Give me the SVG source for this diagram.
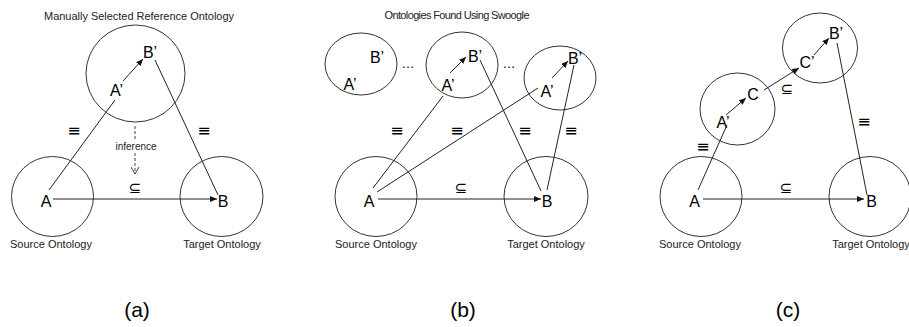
<svg xmlns="http://www.w3.org/2000/svg" width="909" height="327" viewBox="0 0 909 327">
<style>
  .c { fill: none; stroke: #333; stroke-width: 1; }
  .l { fill: none; stroke: #222; stroke-width: 1; }
  .a { fill: none; stroke: #222; stroke-width: 1; marker-end: url(#arr); }
  .d { fill: none; stroke: #444; stroke-width: 1; stroke-dasharray: 3 2; }
  .n { font-family: "Liberation Sans", Arial, sans-serif; font-size: 16px; fill: #000; text-anchor: middle; }
  .t { font-family: "Liberation Sans", Arial, sans-serif; font-size: 11px; fill: #222; text-anchor: middle; }
  .s { font-family: "DejaVu Sans", sans-serif; font-size: 16px; fill: #000; text-anchor: middle; }
  .u { font-family: "DejaVu Sans", sans-serif; font-size: 15px; fill: #000; text-anchor: middle; }
  .p { font-family: "Liberation Sans", Arial, sans-serif; font-size: 21px; fill: #000; text-anchor: middle; }
</style>
<defs>
  <marker id="arr" markerWidth="7" markerHeight="6" refX="7" refY="3" orient="auto" markerUnits="userSpaceOnUse">
    <path d="M0,0 L7,3 L0,6 Z" fill="#111"/>
  </marker>
  <marker id="open" markerWidth="9" markerHeight="9" refX="4.5" refY="8" orient="0" markerUnits="userSpaceOnUse">
    <path d="M0.5,1 L4.5,8 L8.5,1" fill="none" stroke="#444" stroke-width="1"/>
  </marker>
</defs>

<!-- Panel (a) -->
<text class="t" x="139" y="20" textLength="190">Manually Selected Reference Ontology</text>
<g id="a-ref">
  <ellipse class="c" cx="135.5" cy="73.5" rx="49.5" ry="48.5"/>
  <text class="n" x="150" y="58">B’</text>
  <text class="n" x="116.5" y="96">A’</text>
</g>
<g id="a-src">
  <ellipse class="c" cx="52.5" cy="196.5" rx="41" ry="40"/>
  <text class="n" x="46" y="207">A</text>
</g>
<g id="a-tgt">
  <ellipse class="c" cx="221.5" cy="196.5" rx="41.5" ry="40"/>
  <text class="n" x="223" y="207">B</text>
</g>
<text class="t" x="51" y="248">Source Ontology</text>
<text class="t" x="222" y="248">Target Ontology</text>
<g id="a-connectors">
  <line class="a" x1="123" y1="81" x2="143" y2="59"/>
  <line class="l" x1="115" y1="100" x2="49" y2="190"/>
  <line class="l" x1="155" y1="60" x2="218" y2="195"/>
  <line class="a" x1="53" y1="199" x2="217" y2="199"/>
  <line class="d" x1="135" y1="126" x2="135" y2="141"/>
  <line class="d" x1="135" y1="153" x2="135" y2="174" marker-end="url(#open)"/>
  <text class="t" x="136" y="150" style="font-size:10px">inference</text>
  <text class="s" x="74" y="136">≡</text>
  <text class="s" x="204" y="136">≡</text>
  <text class="u" x="135" y="193">⊆</text>
</g>

<!-- Panel (b) -->
<text class="t" x="457" y="19" textLength="145">Ontologies Found Using Swoogle</text>
<g id="b-ont1">
  <ellipse class="c" cx="361" cy="64" rx="36" ry="31"/>
  <text class="n" x="377" y="63">B’</text>
  <text class="n" x="350" y="90">A’</text>
</g>
<g id="b-ont2">
  <ellipse class="c" cx="462" cy="65" rx="36" ry="33"/>
  <text class="n" x="475" y="62">B’</text>
  <text class="n" x="448" y="91">A’</text>
</g>
<g id="b-ont3">
  <ellipse class="c" cx="560" cy="78" rx="36" ry="32"/>
  <text class="n" x="575" y="64">B’</text>
  <text class="n" x="547" y="97">A’</text>
</g>
<text class="n" x="408" y="68" style="font-size:13px">…</text>
<text class="n" x="509" y="68" style="font-size:13px">…</text>
<g id="b-src">
  <ellipse class="c" cx="376" cy="196.5" rx="41" ry="40"/>
  <text class="n" x="369" y="207">A</text>
</g>
<g id="b-tgt">
  <ellipse class="c" cx="546" cy="196.5" rx="42" ry="40"/>
  <text class="n" x="547" y="207">B</text>
</g>
<text class="t" x="376" y="248">Source Ontology</text>
<text class="t" x="546" y="248">Target Ontology</text>
<g id="b-connectors">
  <line class="a" x1="450" y1="73" x2="466" y2="57"/>
  <line class="a" x1="552" y1="78" x2="568" y2="61"/>
  <line class="l" x1="373" y1="188" x2="443" y2="96"/>
  <line class="l" x1="377" y1="192" x2="538" y2="88"/>
  <line class="l" x1="480" y1="60" x2="541" y2="191"/>
  <line class="l" x1="574" y1="65" x2="547" y2="190"/>
  <line class="a" x1="378" y1="199" x2="541" y2="199"/>
  <text class="s" x="397" y="136">≡</text>
  <text class="s" x="457" y="136">≡</text>
  <text class="s" x="525" y="136">≡</text>
  <text class="s" x="571" y="136">≡</text>
  <text class="u" x="461" y="193">⊆</text>
</g>

<!-- Panel (c) -->
<g id="c-bp">
  <ellipse class="c" cx="820" cy="48" rx="37.5" ry="35"/>
  <text class="n" x="836" y="39">B’</text>
  <text class="n" x="807" y="68">C’</text>
</g>
<g id="c-ac">
  <ellipse class="c" cx="737.5" cy="109" rx="37.5" ry="36"/>
  <text class="n" x="753" y="100">C</text>
  <text class="n" x="723" y="128">A’</text>
</g>
<g id="c-src">
  <ellipse class="c" cx="701" cy="196.5" rx="41" ry="40"/>
  <text class="n" x="694.5" y="207">A</text>
</g>
<g id="c-tgt">
  <ellipse class="c" cx="870" cy="196.5" rx="41" ry="40"/>
  <text class="n" x="871.5" y="207">B</text>
</g>
<text class="t" x="700" y="248">Source Ontology</text>
<text class="t" x="871" y="248">Target Ontology</text>
<g id="c-connectors">
  <line class="a" x1="726" y1="115" x2="746" y2="98"/>
  <line class="a" x1="764" y1="90" x2="799" y2="68"/>
  <line class="a" x1="814" y1="55" x2="829" y2="38"/>
  <line class="l" x1="837" y1="43" x2="867" y2="195"/>
  <line class="l" x1="698" y1="190" x2="727" y2="125"/>
  <line class="a" x1="703" y1="199" x2="864" y2="199"/>
  <text class="u" x="787" y="94">⊆</text>
  <text class="s" x="864" y="127">≡</text>
  <text class="s" x="703" y="152">≡</text>
  <text class="u" x="786" y="193">⊆</text>
</g>

<text class="p" x="137" y="317">(a)</text>
<text class="p" x="463" y="317">(b)</text>
<text class="p" x="788" y="317">(c)</text>
</svg>
